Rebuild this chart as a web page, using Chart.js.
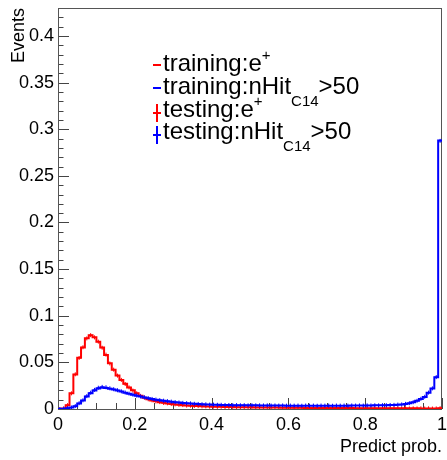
<!DOCTYPE html>
<html>
<head>
<meta charset="utf-8">
<script src="https://cdn.jsdelivr.net/npm/chart.js@4.4.1/dist/chart.umd.min.js"></script>
<style>
	html,
	body {
		margin: 0;
		padding: 0;
		background: #fff;
	}
	.wrap {
		position: relative;
		width: 447px;
		height: 460px;
	}
	.legend {
		position: absolute;
		left: 150px;
		top: 0;
		font-family: 'Liberation Sans', Arial, sans-serif;
		font-size: 24px;
		color: #000;
	}
	.legend__row {
		position: absolute;
		left: 0;
		white-space: nowrap;
		line-height: 24px;
	}
	.legend__text {
		padding-left: 13px;
	}
	.legend__mark {
		position: absolute;
		left: 3px;
	}
	.legend__mark--line {
		top: 13px;
		width: 8px;
		height: 2px;
	}
	.legend__mark--cross-h {
		top: 15px;
		width: 8px;
		height: 1.5px;
	}
	.legend__mark--cross-v {
		left: 6px;
		top: 7px;
		width: 1.5px;
		height: 18px;
	}
	.sup {
		font-size: 15px;
		position: relative;
		top: -11px;
	}
	.sub {
		font-size: 15px;
		position: relative;
		top: 12px;
	}
</style>
</head>
<body>
<div class="wrap">
	<canvas id="myChart" width="447" height="460"></canvas>
	<div class="legend">
		<div class="legend__row" style="top: 51px">
			<i class="legend__mark legend__mark--line" style="background: #ff0000"></i>
			<span class="legend__text">training:e<span class="sup">+</span></span>
		</div>
		<div class="legend__row" style="top: 74px">
			<i class="legend__mark legend__mark--line" style="background: #0000ff"></i>
			<span class="legend__text">training:nHit<span class="sub">C14</span>&gt;50</span>
		</div>
		<div class="legend__row" style="top: 97px">
			<i class="legend__mark legend__mark--cross-h" style="background: #ff0000"></i>
			<i class="legend__mark legend__mark--cross-v" style="background: #ff0000"></i>
			<span class="legend__text">testing:e<span class="sup">+</span></span>
		</div>
		<div class="legend__row" style="top: 119px">
			<i class="legend__mark legend__mark--cross-h" style="background: #0000ff"></i>
			<i class="legend__mark legend__mark--cross-v" style="background: #0000ff"></i>
			<span class="legend__text">testing:nHit<span class="sub">C14</span>&gt;50</span>
		</div>
	</div>
</div>
<script>
// 100 bins of width 0.01 on [0, 1]
const binWidth = 0.01

const trainingE = [
	0, 0.0005, 0.004, 0.017, 0.037, 0.055, 0.066, 0.076, 0.079, 0.077,
	0.072, 0.066, 0.058, 0.049, 0.042, 0.036, 0.031, 0.027, 0.023, 0.02,
	0.0168, 0.0142, 0.0121, 0.0105, 0.0092, 0.0082, 0.0073, 0.0066, 0.006, 0.0054,
	0.0049, 0.0045, 0.0041, 0.0038, 0.0035, 0.0033, 0.0031, 0.0029, 0.0027, 0.0026,
	0.0025, 0.0024, 0.0023, 0.0022, 0.0021, 0.0021, 0.002, 0.0019, 0.0019, 0.0018,
	0.0018, 0.0017, 0.0017, 0.0016, 0.0016, 0.0015, 0.0015, 0.0015, 0.0014, 0.0014,
	0.0014, 0.0013, 0.0013, 0.0013, 0.0012, 0.0012, 0.0012, 0.0012, 0.0011, 0.0011,
	0.0011, 0.0011, 0.001, 0.001, 0.001, 0.001, 0.001, 0.0009, 0.0009, 0.0009,
	0.0009, 0.0009, 0.0008, 0.0008, 0.0008, 0.0008, 0.0008, 0.0008, 0.0007, 0.0007,
	0.0007, 0.0007, 0.0007, 0.0007, 0.0006, 0.0006, 0.0006, 0.0006, 0.0006, 0.0008,
]

const trainingC14 = [
	0, 0.0003, 0.0008, 0.0015, 0.003, 0.006, 0.009, 0.0135, 0.017, 0.0198,
	0.022, 0.023, 0.0226, 0.0218, 0.021, 0.0199, 0.0187, 0.0175, 0.0164, 0.0153,
	0.0143, 0.0133, 0.0124, 0.0115, 0.0107, 0.01, 0.0094, 0.0088, 0.0083, 0.0078,
	0.0073, 0.0069, 0.0065, 0.0062, 0.0059, 0.0056, 0.0053, 0.0051, 0.0049, 0.0047,
	0.0046, 0.0045, 0.0044, 0.0043, 0.0042, 0.0041, 0.0041, 0.004, 0.004, 0.0039,
	0.0039, 0.0039, 0.0038, 0.0038, 0.0038, 0.0037, 0.0037, 0.0037, 0.0037, 0.0036,
	0.0036, 0.0036, 0.0036, 0.0036, 0.0036, 0.0036, 0.0036, 0.0036, 0.0036, 0.0036,
	0.0036, 0.0036, 0.0036, 0.0036, 0.0036, 0.0036, 0.0037, 0.0037, 0.0037, 0.0037,
	0.0038, 0.0038, 0.0039, 0.0039, 0.004, 0.0041, 0.0042, 0.0044, 0.0046, 0.0049,
	0.0054, 0.0062, 0.0072, 0.0088, 0.0108, 0.013, 0.0175, 0.022, 0.034, 0.288,
]

const testingE = [
	0, 0.0006, 0.0042, 0.0168, 0.0372, 0.0547, 0.0662, 0.0757, 0.0792, 0.0768,
	0.0722, 0.0657, 0.0583, 0.0488, 0.0422, 0.0358, 0.0312, 0.0268, 0.0232, 0.0198,
	0.0169, 0.0141, 0.0122, 0.0104, 0.0093, 0.0081, 0.0074, 0.0065, 0.0061, 0.0053,
	0.005, 0.0044, 0.0042, 0.0037, 0.0036, 0.0032, 0.0031, 0.0028, 0.0028, 0.0025,
	0.0026, 0.0023, 0.0024, 0.0021, 0.0022, 0.002, 0.0021, 0.0018, 0.002, 0.0017,
	0.0019, 0.0016, 0.0018, 0.0015, 0.0017, 0.0014, 0.0016, 0.0014, 0.0015, 0.0013,
	0.0015, 0.0012, 0.0014, 0.0012, 0.0013, 0.0011, 0.0013, 0.0011, 0.0012, 0.001,
	0.0012, 0.001, 0.0011, 0.0009, 0.0011, 0.0009, 0.001, 0.0008, 0.001, 0.0008,
	0.0009, 0.0008, 0.0009, 0.0007, 0.0009, 0.0007, 0.0008, 0.0007, 0.0008, 0.0006,
	0.0008, 0.0006, 0.0007, 0.0006, 0.0007, 0.0005, 0.0007, 0.0005, 0.0006, 0.0009,
]

const testingC14 = [
	0, 0.0004, 0.0009, 0.0016, 0.0031, 0.0062, 0.0093, 0.0138, 0.0175, 0.0205,
	0.0228, 0.0237, 0.0233, 0.0222, 0.0212, 0.0201, 0.0189, 0.0176, 0.0165, 0.0154,
	0.0144, 0.0134, 0.0125, 0.0116, 0.0108, 0.0101, 0.0095, 0.0089, 0.0084, 0.0079,
	0.0074, 0.007, 0.0066, 0.0062, 0.006, 0.0056, 0.0054, 0.0051, 0.005, 0.0047,
	0.0047, 0.0045, 0.0045, 0.0043, 0.0043, 0.0041, 0.0042, 0.004, 0.0041, 0.0039,
	0.004, 0.0039, 0.0039, 0.0038, 0.0039, 0.0037, 0.0038, 0.0037, 0.0038, 0.0036,
	0.0037, 0.0036, 0.0037, 0.0035, 0.0037, 0.0036, 0.0037, 0.0035, 0.0037, 0.0036,
	0.0037, 0.0035, 0.0037, 0.0036, 0.0037, 0.0036, 0.0038, 0.0037, 0.0038, 0.0037,
	0.0039, 0.0038, 0.004, 0.0039, 0.0041, 0.0041, 0.0043, 0.0044, 0.0047, 0.0049,
	0.0055, 0.0062, 0.0073, 0.0088, 0.0109, 0.0131, 0.0176, 0.0221, 0.0342, 0.2875,
]

const xTickValues = [0, 0.2, 0.4, 0.6, 0.8, 1]
const xTickLabels = ['0', '0.2', '0.4', '0.6', '0.8', '1']
const yTickValues = [0, 0.05, 0.1, 0.15, 0.2, 0.25, 0.3, 0.35, 0.4]
const yTickLabels = ['0', '0.05', '0.1', '0.15', '0.2', '0.25', '0.3', '0.35', '0.4']
const xMinorCount = 20 // every 0.05
const yMinorCount = 43 // every 0.01
const yMax = 0.43

const fontFamily = "'Liberation Sans', Arial, sans-serif"

// histogram outline: one point on each bin's left edge, plus closing point at x = 1
function histLine(values) {
	const pts = values.map((v, i) => ({ x: i * binWidth, y: v }))
	pts.push({ x: values.length * binWidth, y: values[values.length - 1] })
	return pts
}

// testing markers: bin centres
function histPoints(values) {
	return values.map((v, i) => ({ x: (i + 0.5) * binWidth, y: v }))
}

const frameAndTicks = {
	id: 'frameAndTicks',
	beforeDatasetsDraw(chart) {
		const { ctx, chartArea: a, scales } = chart
		const x = scales.x
		const y = scales.y
		ctx.save()
		ctx.strokeStyle = '#444'
		ctx.lineWidth = 1
		ctx.beginPath()
		for (let k = 0; k <= xMinorCount; k++) {
			const v = k / xMinorCount
			const px = Math.round(x.getPixelForValue(v)) + 0.5
			const major = k % 4 === 0
			ctx.moveTo(px, a.bottom)
			ctx.lineTo(px, a.bottom - (major ? 11 : 6))
		}
		for (let k = 0; k <= yMinorCount; k++) {
			const v = k / 100
			const py = Math.round(y.getPixelForValue(v)) + 0.5
			const major = k % 5 === 0
			ctx.moveTo(a.left, py)
			ctx.lineTo(a.left + (major ? 11 : 5.5), py)
		}
		ctx.stroke()
		ctx.strokeStyle = '#555'
		ctx.strokeRect(a.left + 0.5, a.top + 0.5, a.right - a.left - 1, a.bottom - a.top)
		ctx.restore()
	},
}

const ctx = document.getElementById('myChart')

new Chart(ctx, {
	type: 'line',
	data: {
		datasets: [
			{
				label: 'testing:nHit C14>50',
				data: histPoints(testingC14),
				showLine: false,
				pointStyle: 'cross',
				pointRadius: 2,
				pointBorderWidth: 1,
				borderColor: '#0000ff',
				backgroundColor: '#0000ff',
			},
			{
				label: 'training:nHit C14>50',
				data: histLine(trainingC14),
				stepped: true,
				borderColor: '#0000ff',
				borderWidth: 2,
				pointRadius: 0,
				fill: false,
			},
			{
				label: 'testing:e+',
				data: histPoints(testingE),
				showLine: false,
				pointStyle: 'cross',
				pointRadius: 2,
				pointBorderWidth: 1,
				borderColor: '#ff0000',
				backgroundColor: '#ff0000',
			},
			{
				label: 'training:e+',
				data: histLine(trainingE),
				stepped: true,
				borderColor: '#ff0000',
				borderWidth: 2,
				pointRadius: 0,
				fill: false,
			},
		],
	},
	options: {
		responsive: false,
		animation: false,
		layout: {
			padding: { top: 8, right: 1, left: 0, bottom: 0 },
		},
		scales: {
			x: {
				type: 'linear',
				min: 0,
				max: 1,
				afterBuildTicks: (s) => {
					s.ticks = xTickValues.map((v) => ({ value: v }))
				},
				afterFit: (s) => {
					s.height = 51
					s.paddingLeft = 0
					s.paddingRight = 0
				},
				ticks: {
					callback: (v, i) => xTickLabels[i],
					font: { size: 18, family: fontFamily },
					color: '#000',
					padding: 5,
					maxRotation: 0,
					autoSkip: false,
				},
				grid: { display: false, drawTicks: false },
				border: { display: false },
				title: {
					display: true,
					text: 'Predict prob.',
					align: 'end',
					color: '#000',
					font: { size: 18, family: fontFamily },
					padding: { top: 0, bottom: 2 },
				},
			},
			y: {
				type: 'linear',
				min: 0,
				max: yMax,
				afterBuildTicks: (s) => {
					s.ticks = yTickValues.map((v) => ({ value: v }))
				},
				afterFit: (s) => {
					s.width = 58
					s.paddingTop = 0
					s.paddingBottom = 0
				},
				ticks: {
					callback: (v, i) => yTickLabels[i],
					font: { size: 18, family: fontFamily },
					color: '#000',
					padding: 4,
					autoSkip: false,
				},
				grid: { display: false, drawTicks: false },
				border: { display: false },
				title: {
					display: true,
					text: 'Events',
					align: 'end',
					color: '#000',
					font: { size: 18, family: fontFamily },
					padding: { top: 8, bottom: 0 },
				},
			},
		},
		plugins: {
			legend: { display: false },
			tooltip: { enabled: false },
		},
	},
	plugins: [frameAndTicks],
})
</script>
</body>
</html>
